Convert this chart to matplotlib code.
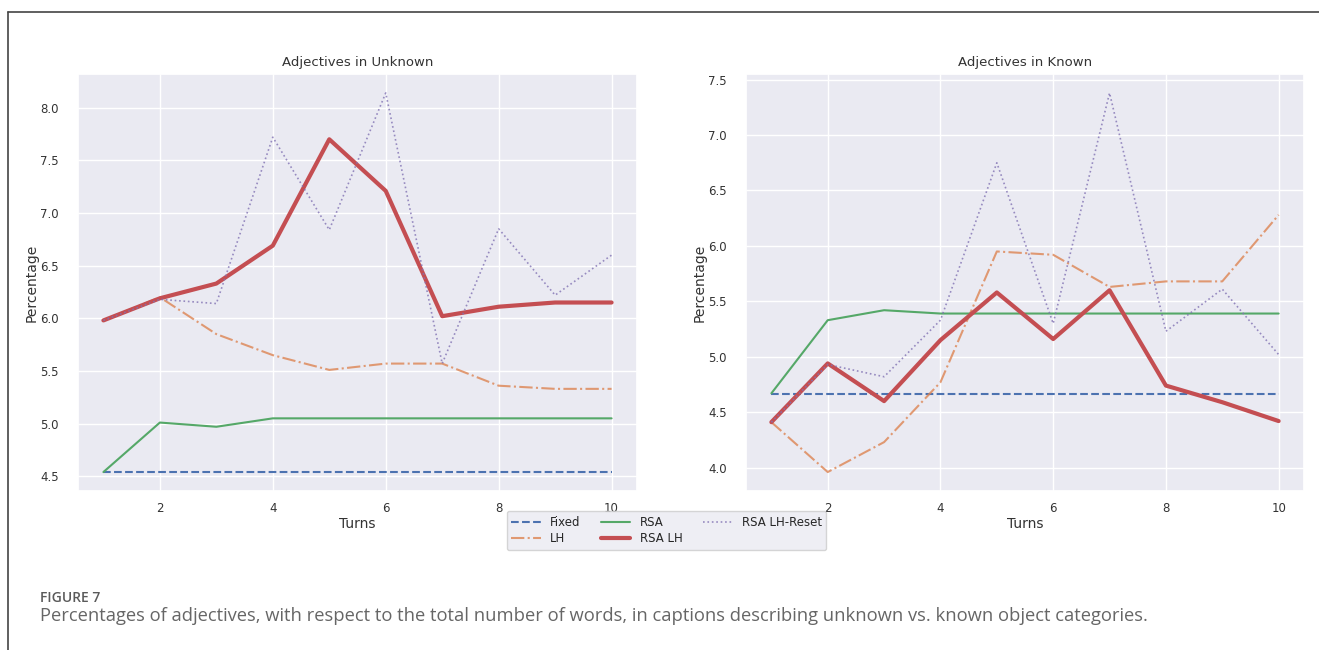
import numpy as np
import matplotlib.pyplot as plt
import seaborn as sns
from matplotlib.lines import Line2D

turns = list(range(1, 11))

# Adjectives in Unknown
unk_fixed = [4.54] * 10
unk_lh = [5.98, 6.20, 5.85, 5.65, 5.51, 5.57, 5.57, 5.36, 5.33, 5.33]
unk_rsa = [4.54, 5.01, 4.97, 5.05, 5.05, 5.05, 5.05, 5.05, 5.05, 5.05]
unk_rsa_lh = [5.98, 6.19, 6.33, 6.69, 7.70, 7.21, 6.02, 6.11, 6.15, 6.15]
unk_reset = [5.98, 6.18, 6.14, 7.72, 6.84, 8.14, 5.57, 6.85, 6.22, 6.60]

# Adjectives in Known
kn_fixed = [4.66] * 10
kn_lh = [4.41, 3.96, 4.23, 4.77, 5.95, 5.92, 5.63, 5.68, 5.68, 6.28]
kn_rsa = [4.67, 5.33, 5.42, 5.39, 5.39, 5.39, 5.39, 5.39, 5.39, 5.39]
kn_rsa_lh = [4.41, 4.94, 4.60, 5.15, 5.58, 5.16, 5.60, 4.74, 4.59, 4.42]
kn_reset = [4.41, 4.93, 4.82, 5.33, 6.75, 5.30, 7.38, 5.23, 5.61, 5.02]

sns.set_theme(style="darkgrid")
plt.rcParams['font.family'] = ['DejaVu Sans']

pal = sns.color_palette("deep")

fig = plt.figure(figsize=(13.19, 6.5), dpi=100)
fig.patch.set_facecolor('white')

W, H = 1319, 650
ax1 = fig.add_axes([78 / W, 1 - 491 / H, 559 / W, 417 / H])
ax2 = fig.add_axes([746 / W, 1 - 491 / H, 558 / W, 417 / H])


def draw(ax, fixed, lh, rsa, rsa_lh, reset, title):
    ax.plot(turns, fixed, color=pal[0], ls='--', lw=1.5, label='Fixed')
    ax.plot(turns, lh, color=pal[1], ls='-.', lw=1.5, alpha=0.8, label='LH')
    ax.plot(turns, rsa, color=pal[2], ls='-', lw=1.5, label='RSA')
    ax.plot(turns, rsa_lh, color=pal[3], ls='-', lw=3, label='RSA LH')
    ax.plot(turns, reset, color=pal[4], ls=':', lw=1.2, alpha=0.8, label='RSA LH-Reset')
    ax.set_title(title, fontsize=9.5, color='#333333', pad=6)
    ax.set_xlabel('Turns', fontsize=10, color='#333333', labelpad=1)
    ax.set_ylabel('Percentage', fontsize=10, color='#333333', labelpad=1)
    ax.tick_params(axis='x', labelsize=8.5, colors='#333333', pad=2)
    ax.tick_params(axis='y', labelsize=8.5, colors='#333333', pad=8)
    ax.set_xticks([2, 4, 6, 8, 10])


draw(ax1, unk_fixed, unk_lh, unk_rsa, unk_rsa_lh, unk_reset, 'Adjectives in Unknown')
draw(ax2, kn_fixed, kn_lh, kn_rsa, kn_rsa_lh, kn_reset, 'Adjectives in Known')

handles, labels = ax1.get_legend_handles_labels()
fig.legend(handles, labels, loc='upper center', bbox_to_anchor=(666.5 / W, 1 - 511 / H),
           ncol=3, fontsize=8.5, borderaxespad=0, frameon=True,
           handlelength=2.5, columnspacing=1.7, labelspacing=0.3)

# frame lines around figure
fig.add_artist(Line2D([7.5 / W, 7.5 / W], [0, 1 - 11.5 / H], color='#444444', lw=1.2,
                      transform=fig.transFigure))
fig.add_artist(Line2D([7.5 / W, 1], [1 - 11.5 / H, 1 - 11.5 / H], color='#444444', lw=1.2,
                      transform=fig.transFigure))

fig.text(40 / W, 1 - 598 / H, 'FIGURE 7', fontsize=10, color='#5a5a5a',
         family='Open Sans', weight='semibold', va='center', ha='left')
fig.text(40 / W, 1 - 616 / H,
         'Percentages of adjectives, with respect to the total number of words, '
         'in captions describing unknown vs. known object categories.',
         fontsize=13.2, color='#666666', family='Open Sans', va='center', ha='left')

fig.savefig('out.png', dpi=100, facecolor='white')
